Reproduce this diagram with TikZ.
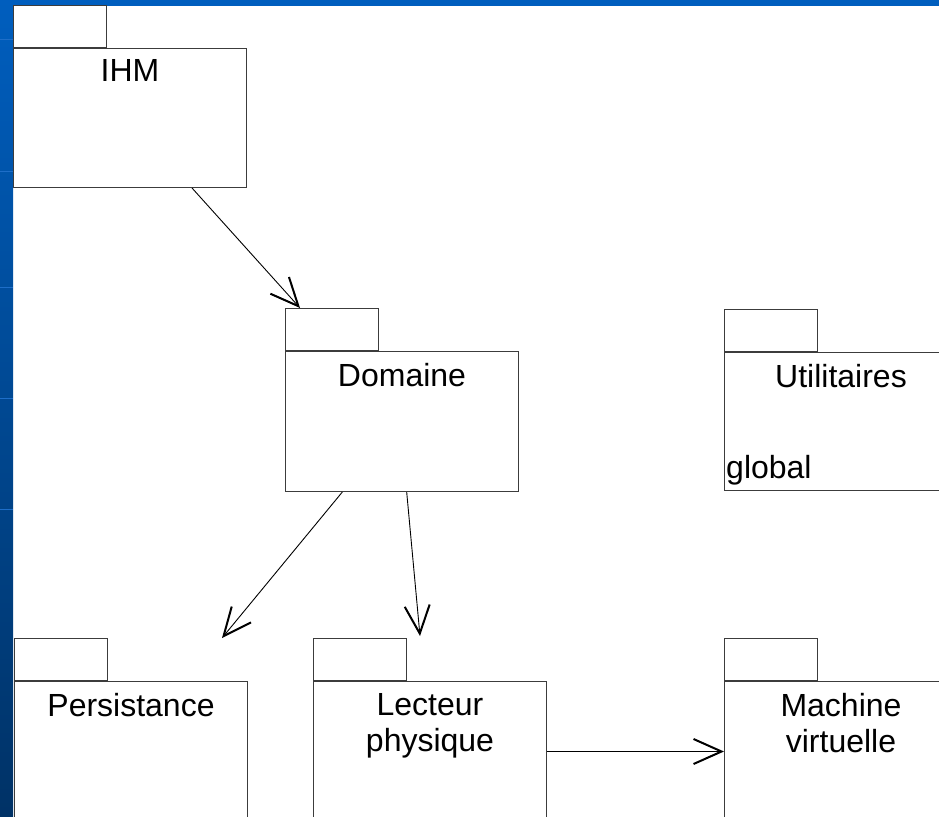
\documentclass[tikz,border=0pt]{standalone}
\usepackage{fontspec}
\setmainfont{Liberation Sans}
\usetikzlibrary{arrows.meta,calc}

\definecolor{bartop}{RGB}{0,94,190}
\definecolor{barbottom}{RGB}{0,50,102}
\definecolor{barline}{RGB}{30,110,200}
\definecolor{boxline}{RGB}{60,60,60}

\tikzset{
  pkgbody/.style={draw=boxline, fill=white, line width=1pt, inner sep=0pt,
    minimum width=233pt, minimum height=139pt, anchor=north west},
  pkgtab/.style={draw=boxline, fill=white, line width=1pt, inner sep=0pt,
    minimum width=93pt, minimum height=42pt, anchor=south west},
  pkgname/.style={anchor=north, inner sep=0pt, align=center,
    font=\fontsize{32}{36}\selectfont},
  pkgnote/.style={anchor=base west, inner sep=0pt,
    font=\fontsize{32}{36}\selectfont},
  dep/.style={draw=black, line width=0.9pt,
    -{Straight Barb[length=28pt,width=25pt,line width=2pt]}},
}

\begin{document}
\begin{tikzpicture}[x=1pt,y=-1pt]
  \useasboundingbox (0,0) rectangle (939,816);
  \clip (0,0) rectangle (939,816);
  \fill[white] (0,0) rectangle (939,816);

  % slide frame: top band and shaded left band
  \fill[bartop] (0,0) rectangle (939,6);
  \shade[top color=bartop, bottom color=barbottom] (0,0) rectangle (13,816);
  \foreach \yy in {40,171,287,398,509}
    \draw[barline, line width=1pt] (0,\yy) -- (13,\yy);

  % packages: body first, tab sitting on its top left corner
  \node[pkgbody] (ihm) at (13,48) {};
  \node[pkgtab] (ihmtab) at (ihm.north west) {};
  \node[pkgname] at ([yshift=-11pt]ihm.north) {IHM};

  \node[pkgbody, minimum height=140pt] (dom) at (285,351) {};
  \node[pkgtab] (domtab) at (dom.north west) {};
  \node[pkgname] at ([yshift=-12pt]dom.north) {Domaine};

  \node[pkgbody, minimum height=138pt] (util) at (724,352) {};
  \node[pkgtab] (utiltab) at (util.north west) {};
  \node[pkgname] at ([yshift=-12pt]util.north) {Utilitaires};
  \node[pkgnote] at ([xshift=2pt,yshift=13pt]util.south west) {global};

  \node[pkgbody, minimum height=140pt] (pers) at (14,681) {};
  \node[pkgtab] (perstab) at (pers.north west) {};
  \node[pkgname] at ([yshift=-12pt]pers.north) {Persistance};

  \node[pkgbody, minimum height=140pt] (lec) at (313,681) {};
  \node[pkgtab] (lectab) at (lec.north west) {};
  \node[pkgname] at ([yshift=-12pt]lec.north) {Lecteur\\physique};

  \node[pkgbody, minimum height=140pt] (mac) at (724,681) {};
  \node[pkgtab] (mactab) at (mac.north west) {};
  \node[pkgname] at ([yshift=-12pt]mac.north) {Machine\\virtuelle};

  % dependency end points
  \coordinate (ihmout) at ($(ihm.south west)!0.765!(ihm.south east)$);
  \coordinate (domin) at ($(domtab.north west)!0.16!(domtab.north east)$);
  \coordinate (domoutA) at ($(dom.south west)!0.245!(dom.south east)$);
  \coordinate (domoutB) at ($(dom.south west)!0.52!(dom.south east)$);
  \coordinate (persin) at ([xshift=114pt]perstab.north east);
  \coordinate (lecin) at ([xshift=13pt,yshift=2pt]lectab.north east);

  % dependencies
  \draw[dep] (ihmout) -- (domin);
  \draw[dep] (domoutA) -- (persin);
  \draw[dep] (domoutB) -- (lecin);
  \draw[dep] (lec.east) -- (mac.west);
\end{tikzpicture}
\end{document}
